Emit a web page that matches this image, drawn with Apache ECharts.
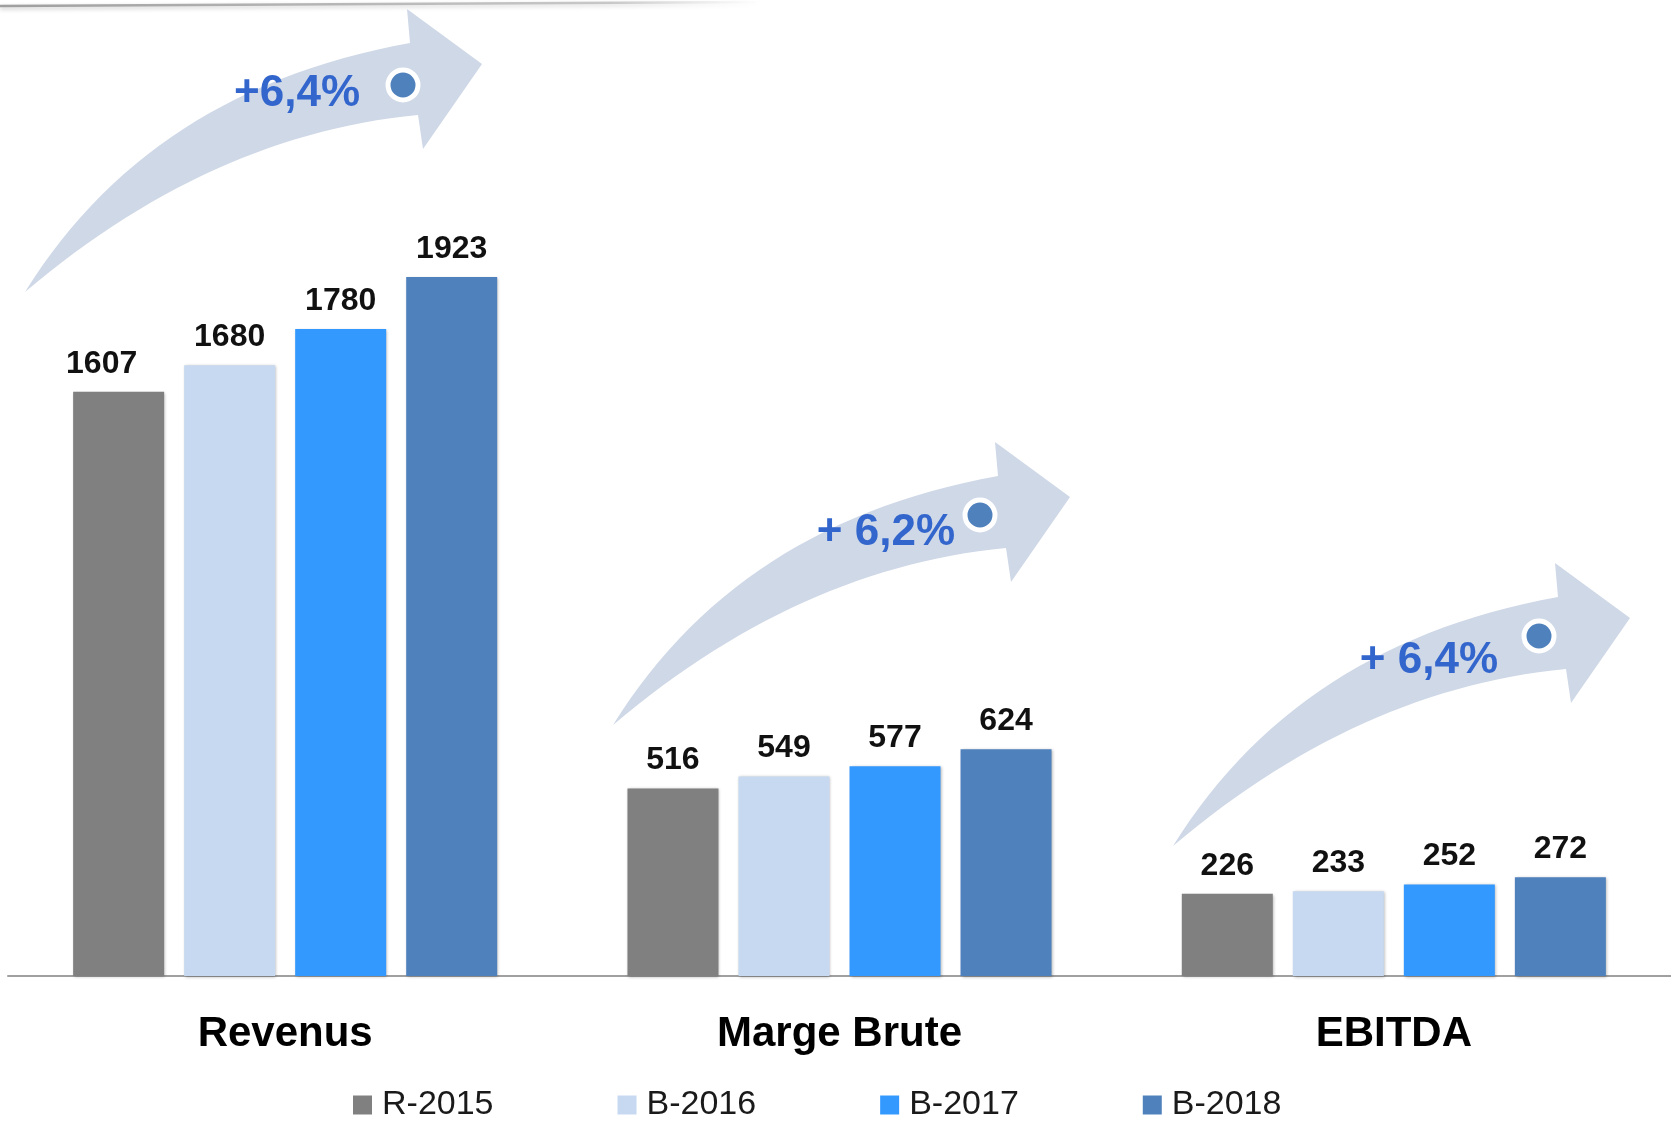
<!DOCTYPE html>
<html>
<head>
<meta charset="utf-8">
<script src="https://cdn.jsdelivr.net/npm/echarts@6/dist/echarts.min.js"></script>
<style>
  html, body { margin: 0; padding: 0; background: #fff; }
  #container { width: 1671px; height: 1125px; }
</style>
</head>
<body>
<div id="container"></div>
<script>
// categories and series
var categories = ['Revenus', 'Marge Brute', 'EBITDA'];
var seriesNames = ['R-2015', 'B-2016', 'B-2017', 'B-2018'];
var r2015 = [1607, 516, 226];
var b2016 = [1680, 549, 233];
var b2017 = [1780, 577, 252];
var b2018 = [1923, 624, 272];
var growthLabels = ['+6,4%', '+ 6,2%', '+ 6,4%'];

var colors = ['#808080', '#C6D9F0', '#3399FF', '#4F81BD'];
var arrowColor = '#CFD8E7';
var growthColor = '#3366CC';

// decoration: arrow tail tips, dots and growth text (pixel positions)
var arrowAnchors = [[25, 292], [613, 725], [1173, 846]];
var dotPos = [[403, 85], [980, 515], [1539, 636]];
var growthPos = [[360, 94], [955, 533], [1498, 661]];

// quadratic curve sampled into points
function quad(p0, c, p1, n) {
  var pts = [];
  for (var i = 0; i <= n; i++) {
    var t = i / n, u = 1 - t;
    pts.push([
      u * u * p0[0] + 2 * u * t * c[0] + t * t * p1[0],
      u * u * p0[1] + 2 * u * t * c[1] + t * t * p1[1]
    ]);
  }
  return pts;
}

function arrowPoints(x, y) {
  // same shape for each arrow, relative to tail tip
  function p(dx, dy) { return [x + dx, y + dy]; }
  var upper = quad(p(0, 0), p(125, -202), p(385, -249), 30);
  var head = [p(382, -283), p(457, -228), p(398, -143), p(393, -177)];
  var lower = quad(p(393, -177), p(185, -157), p(0, 0), 30);
  return upper.concat(head, lower.slice(1));
}

function buildGraphics() {
  var g = [];
  // faint line at the top
  g.push({
    type: 'line',
    shape: { x1: 0, y1: 6, x2: 760, y2: 2 },
    style: {
      stroke: new echarts.graphic.LinearGradient(0, 0, 1, 0, [
        { offset: 0, color: 'rgba(150,150,150,0.9)' },
        { offset: 0.8, color: 'rgba(170,170,170,0.6)' },
        { offset: 1, color: 'rgba(200,200,200,0)' }
      ]),
      lineWidth: 2.5,
      shadowBlur: 4,
      shadowColor: 'rgba(0,0,0,0.25)',
      shadowOffsetY: 2
    },
    z: 0
  });
  for (var i = 0; i < arrowAnchors.length; i++) {
    var x = arrowAnchors[i][0], y = arrowAnchors[i][1];
    g.push({
      type: 'polygon',
      shape: { points: arrowPoints(x, y) },
      style: { fill: arrowColor },
      z: 0
    });
    g.push({
      type: 'circle',
      shape: { cx: dotPos[i][0], cy: dotPos[i][1], r: 15 },
      style: { fill: '#4F81BD', stroke: '#fff', lineWidth: 5 },
      z: 2
    });
    g.push({
      type: 'text',
      x: growthPos[i][0],
      y: growthPos[i][1],
      style: {
        text: growthLabels[i],
        fill: growthColor,
        font: 'bold 44px "Liberation Sans", Arial, sans-serif',
        align: 'right',
        verticalAlign: 'middle'
      },
      z: 2
    });
  }
  return g;
}

var dom = document.getElementById('container');
var myChart = echarts.init(dom);

var allData = [r2015, b2016, b2017, b2018];
var series = [];
for (var s = 0; s < seriesNames.length; s++) {
  var items = allData[s].map(function (v, k) {
    // the 1607 label sits a little left of its bar in the original
    if (s === 0 && k === 0) {
      return { value: v, label: { offset: [-17, 0] } };
    }
    return v;
  });
  series.push({
    name: seriesNames[s],
    type: 'bar',
    data: items,
    barWidth: 91,
    barGap: '22%',
    itemStyle: {
      color: colors[s],
      shadowBlur: 3,
      shadowColor: 'rgba(0,0,0,0.3)',
      shadowOffsetX: 1,
      shadowOffsetY: 1
    },
    label: {
      show: true,
      position: 'top',
      distance: 12,
      color: '#111',
      fontFamily: '"Liberation Sans", Arial, sans-serif',
      fontWeight: 'bold',
      fontSize: 32
    },
    z: 3
  });
}

var option = {
  animation: false,
  backgroundColor: '#fff',
  legend: {
    data: seriesNames,
    left: 348,
    top: 1081,
    itemWidth: 19,
    itemHeight: 19,
    itemGap: 124,
    icon: 'rect',
    textStyle: {
      fontFamily: '"Liberation Sans", Arial, sans-serif',
      fontSize: 34,
      lineHeight: 38,
      color: '#1a1a1a',
      padding: [0, 0, 0, 5]
    }
  },
  grid: {
    left: 8,
    right: 0,
    top: 249,
    bottom: 149,
    containLabel: false
  },
  xAxis: {
    type: 'category',
    data: categories,
    axisTick: { show: false },
    axisLine: { lineStyle: { color: '#A0A0A0', width: 2 } },
    axisLabel: {
      margin: 37,
      color: '#000',
      fontFamily: '"Liberation Sans", Arial, sans-serif',
      fontWeight: 'bold',
      fontSize: 42,
      lineHeight: 42
    }
  },
  yAxis: {
    type: 'value',
    min: 0,
    max: 2000,
    show: false,
    splitLine: { show: false }
  },
  graphic: buildGraphics(),
  series: series
};

myChart.setOption(option);
</script>
</body>
</html>
